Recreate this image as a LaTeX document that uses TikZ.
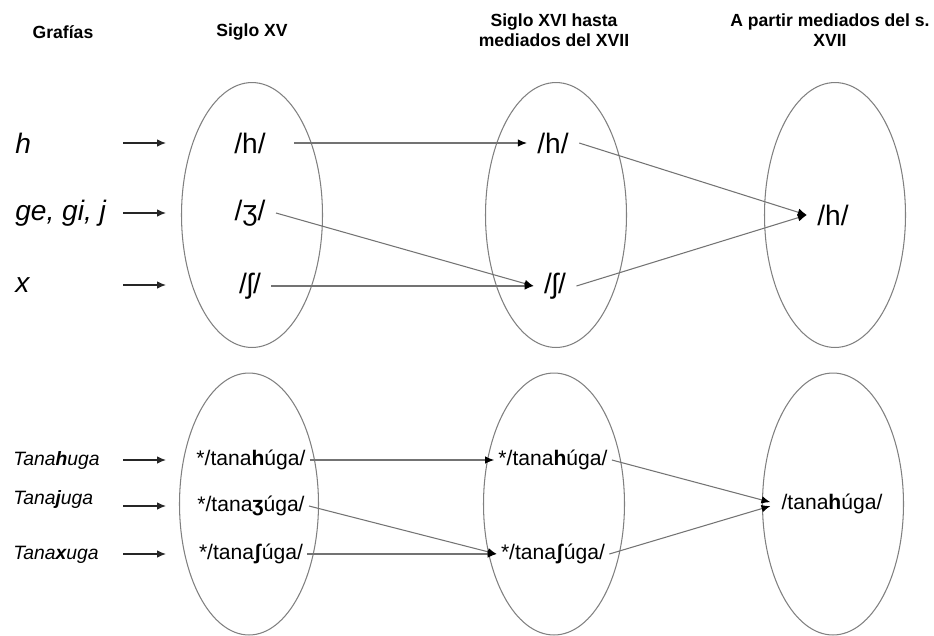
\documentclass[tikz,border=0pt]{standalone}
\usepackage{fontspec}
\setmainfont{Liberation Sans}
\usetikzlibrary{shapes.geometric, arrows.meta}

\begin{document}
\begin{tikzpicture}[
    x=0.02cm, y=-0.02cm,
    hd/.style={font=\fontsize{10}{11.5}\selectfont\bfseries, align=center, inner sep=0pt},
    ov/.style={draw=black!50, line width=0.6pt, ellipse, minimum width=2.82cm,
      minimum height=5.3cm, inner sep=0pt},
    gr/.style={anchor=west, inner sep=0pt, font=\fontsize{16}{19}\selectfont\itshape},
    fon/.style={inner sep=0pt, outer sep=6pt, font=\fontsize{16}{19}\selectfont},
    gw/.style={anchor=west, inner sep=0pt, font=\fontsize{11}{13}\selectfont\itshape},
    wd/.style={inner sep=1pt, outer sep=1.5pt, font=\fontsize{12}{14}\selectfont},
    fl/.style={-{Latex[length=1.8mm, width=1.5mm]}, line width=0.6pt, black!85},
    lk/.style={-{Latex[length=1.8mm, width=1.5mm, color=black]}, line width=0.6pt, black!55}
  ]
  \useasboundingbox (0,0) rectangle (934,636);

  % --- encabezados ---
  \node[hd] (hg)  at (63,32)  {Grafías};
  \node[hd] (h15) at (252,32) {Siglo XV};
  \node[hd] (h16) at (554,30) {Siglo XVI hasta\\mediados del XVII};
  \node[hd] (h17) at (830,30) {A partir mediados del s.\\XVII};

  % --- elipses ---
  \node[ov] (e1) at (252,215) {};
  \node[ov] (e2) at (556,215) {};
  \node[ov] (e3) at (835,215) {};
  \node[ov, minimum width=2.78cm, minimum height=5.24cm] (f1) at (249,504) {};
  \node[ov, minimum width=2.82cm, minimum height=5.24cm] (f2) at (554,504) {};
  \node[ov, minimum width=2.82cm, minimum height=5.24cm] (f3) at (833,504) {};

  % --- grafías y flechas cortas ---
  \node[gr] (gh) at (15,143) {h};
  \node[gr] (gj) at (15,213) {ge, gi, j};
  \node[gr] (gx) at (15,285) {x};
  \node[gw] (wh) at (13,460) {Tana\textbf{h}uga};
  \node[gw] (wj) at (13,499) {Tana\textbf{j}uga};
  \node[gw] (wx) at (13,555) {Tana\textbf{x}uga};
  \foreach \y/\n in {143/1, 213/2, 285/3, 460/4, 506/5, 554/6} {
    \coordinate (s\n) at (123,\y);
    \coordinate (t\n) at (166,\y);
    \draw[fl] (s\n) -- (t\n);
  }

  % --- fonemas ---
  \node[fon] (p1h) at (250,143) {/h/};
  \node[fon] (p1z) at (250,213) {/ʒ/};
  \node[fon] (p1s) at (250,286) {/ʃ/};
  \node[fon] (p2h) at (553,143) {/h/};
  \node[fon] (p2s) at (555,286) {/ʃ/};
  \node[fon] (p3h) at (833,215) {/h/};

  \draw[lk, shorten <=17\pgflinewidth] (p1h) -- (p2h);
  \draw[lk] (p1z.east) -- (p2s.west);
  \draw[lk] (p1s) -- (p2s);
  \draw[lk] (p2h.east) -- (p3h.west);
  \draw[lk] (p2s.east) -- (p3h.west);

  % --- ejemplo ---
  \node[wd] (q1h) at (251,460) {*/tana\textbf{h}úga/};
  \node[wd] (q1z) at (251,506) {*/tana\textbf{ʒ}úga/};
  \node[wd] (q1s) at (251,554) {*/tana\textbf{ʃ}úga/};
  \node[wd] (q2h) at (553,460) {*/tana\textbf{h}úga/};
  \node[wd] (q2s) at (553,554) {*/tana\textbf{ʃ}úga/};
  \node[wd] (q3h) at (832,504) {/tana\textbf{h}úga/};

  \draw[lk] (q1h) -- (q2h);
  \draw[lk] (q1z.east) -- (q2s.west);
  \draw[lk] (q1s) -- (q2s);
  \draw[lk, shorten >=4pt] (q2h.east) -- (q3h.west);
  \draw[lk, shorten >=4pt] (q2s.east) -- (q3h.west);
\end{tikzpicture}
\end{document}
